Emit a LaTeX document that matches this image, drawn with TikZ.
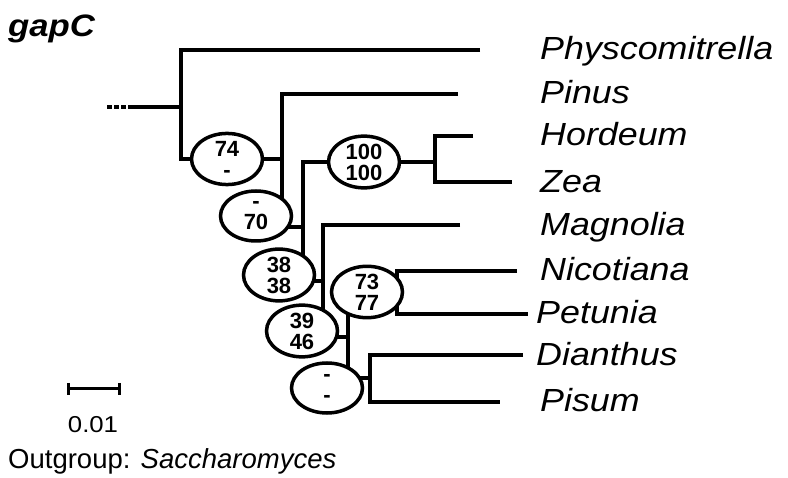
\documentclass[tikz,border=0pt]{standalone}
\usepackage{fontspec}
\setmainfont{Liberation Sans}
\usepackage{graphicx}
\usetikzlibrary{shapes.geometric,backgrounds}
\tikzset{
 branch/.style={line width=4pt, line cap=butt, line join=miter},
 bs/.style={draw, line width=3.5pt, ellipse, fill=white, minimum width=71pt, minimum height=50pt, inner sep=0pt, align=center, font=\fontsize{22}{21}\selectfont\bfseries},
 taxon/.style={anchor=base west, inner sep=0pt, font=\fontsize{32}{36}\selectfont\itshape},
 plain/.style={inner sep=0pt},
}
\newcommand{\wide}[1]{\scalebox{1.12}[1]{#1}}
\begin{document}
\begin{tikzpicture}[x=1pt,y=-1pt]
\useasboundingbox (0,0) rectangle (788,478);
% title
\node[plain, anchor=base west, font=\fontsize{31}{34}\selectfont\bfseries\itshape] (title) at (8,37) {\wide{gapC}};
% support ellipses
\node[bs] (e74) at (227,159) {74\\-};
\node[bs] (e70) at (256,216) {-\\70};
\node[bs] (e100) at (364,162) {100\\100};
\node[bs] (e38) at (279,275) {38\\38};
\node[bs] (e39) at (302,331) {39\\46};
\node[bs] (e73) at (367,292) {73\\77};
\node[bs] (eD) at (327,388) {-\\-};
% leaf ends
\coordinate (phy) at (480,50);
\coordinate (pin) at (458,94);
\coordinate (hor) at (473,136);
\coordinate (zea) at (512,182);
\coordinate (mag) at (460,225);
\coordinate (nic) at (517,271);
\coordinate (pet) at (528,314);
\coordinate (dia) at (523,355);
\coordinate (pis) at (500,402);
% vertical line positions
\coordinate (v1) at (181,0);
\coordinate (v2) at (282,0);
\coordinate (v3) at (303,0);
\coordinate (v4) at (323,0);
\coordinate (v5) at (348,0);
\coordinate (v6) at (435,0);
\coordinate (v7) at (397,0);
\coordinate (v8) at (370,0);
% root
\coordinate (r0) at (107,107);
\coordinate (r1) at (128,107);
% taxa labels
\node[taxon] (tphy) at (540,60) {\wide{Physcomitrella}};
\node[taxon] (tpin) at (540,104) {\wide{Pinus}};
\node[taxon] (thor) at (540,146) {\wide{Hordeum}};
\node[taxon] (tzea) at (540,193) {\wide{Zea}};
\node[taxon] (tmag) at (540,236) {\wide{Magnolia}};
\node[taxon] (tnic) at (540,281) {\wide{Nicotiana}};
\node[taxon] (tpet) at (536,324) {\wide{Petunia}};
\node[taxon] (tdia) at (536,366) {\wide{Dianthus}};
\node[taxon] (tpis) at (540,412) {\wide{Pisum}};
% scale bar and outgroup
\coordinate (sbL) at (68,389);
\coordinate (sbR) at (119,389);
\node[plain, anchor=base, font=\fontsize{23}{26}\selectfont] (sblab) at (93,433) {\wide{0.01}};
\node[plain, anchor=base west, font=\fontsize{27.5}{30}\selectfont] (outg) at (8,468) {Outgroup: \textit{Saccharomyces}};
\draw[line width=3pt] (sbL) -- (sbR);
\draw[line width=3pt] ([yshift=6pt]sbL) -- ([yshift=-6pt]sbL);
\draw[line width=3pt] ([yshift=6pt]sbR) -- ([yshift=-6pt]sbR);
\begin{scope}[on background layer]
\draw[branch, dash pattern=on 5pt off 2pt] (r0) -- (r1);
\draw[branch] (r1) -- (r1 -| v1);
\draw[branch] (phy) -- (phy -| v1) -- (v1 |- e74) -- (e74);
\draw[branch] (e74) -- (e74 -| v2);
\draw[branch] (pin) -- (pin -| v2) -- (v2 |- e70);
\draw[branch] ([yshift=-11pt]e70.center) -- ([yshift=-11pt]e70.center -| v3);
\draw[branch] (e100) -- (e100 -| v3) -- (v3 |- e38);
\draw[branch] (e100) -- (e100 -| v6);
\draw[branch] (hor) -- (hor -| v6) -- (zea -| v6) -- (zea);
\draw[branch] ([yshift=-6pt]e38.center) -- ([yshift=-6pt]e38.center -| v4);
\draw[branch] (mag) -- (mag -| v4) -- (v4 |- e39);
\draw[branch] ([yshift=-6pt]e39.center) -- ([yshift=-6pt]e39.center -| v5);
\draw[branch] (v5 |- e73) -- (v5 |- eD);
\draw[branch] (nic) -- (nic -| v7) -- (pet -| v7) -- (pet);
\draw[branch] ([yshift=10pt]eD.center) -- ([yshift=10pt]eD.center -| v8);
\draw[branch] (dia) -- (dia -| v8) -- (pis -| v8) -- (pis);
\end{scope}
\end{tikzpicture}
\end{document}
